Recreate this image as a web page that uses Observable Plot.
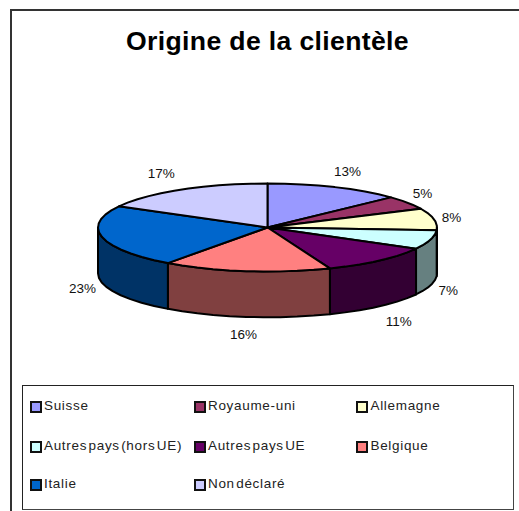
<!DOCTYPE html>
<html lang="fr">
<head>
<meta charset="utf-8">
<script src="https://cdn.jsdelivr.net/npm/d3@7"></script>
<script src="https://cdn.jsdelivr.net/npm/@observablehq/plot@0.6"></script>
<style>
html,body{margin:0;padding:0;background:#fff;overflow:hidden;width:519px;height:511px;}
body{position:relative;font-family:"Liberation Sans",Arial,sans-serif;color:#111;}
#frame{position:absolute;left:10px;top:9px;width:600px;height:600px;border:2px solid #333;box-sizing:border-box;}
#title{position:absolute;left:0;width:535px;top:25px;text-align:center;font-size:26.6px;font-weight:bold;letter-spacing:.35px;color:#000;line-height:32px;}
#chart{position:absolute;left:0;top:0;}
#chart svg{display:block;}
#legend{position:absolute;left:22px;top:385px;width:492px;height:125px;border:1px solid #222;box-sizing:border-box;border-right:1.5px solid #444;border-bottom:1.5px solid #444;}
.item{position:absolute;height:14px;line-height:14px;font-size:13.5px;letter-spacing:.68px;word-spacing:-3px;white-space:nowrap;color:#222;}
.sw{position:absolute;left:0;top:1px;width:12px;height:12px;box-sizing:border-box;border:2px solid #111;}
.item span{position:absolute;left:14.5px;top:-1px;}
</style>
</head>
<body>
<div id="frame"></div>
<div id="title">Origine de la clientèle</div>
<div id="chart"></div>
<div id="legend"></div>
<script>
const categories = ["Suisse","Royaume-uni","Allemagne","Autres pays (hors UE)","Autres pays UE","Belgique","Italie","Non déclaré"];
const shares = [13,5,8,7,11,16,23,17];
const topColors = ["#9999FF","#993366","#FFFFCC","#CCFFFF","#660066","#FF8080","#0066CC","#CCCCFF"];
const sideColors = ["#4D4D80","#4D1A33","#808066","#668080","#330033","#804040","#003366","#666680"];
// how far each percentage label sits from the pie centre, in radii
const labelReachX = [1.19,1.106,1.105,1.11,1.17,1.13,1.118,1.23];
const labelReachY = [1.39,1.375,1.2,1.4,1.475,1.4,1.56,1.43];

const depth = 1.04;      // wall height in units of the vertical radius
const rad = d => d * Math.PI / 180;
const rim = (deg, drop = 0) => ({x: Math.sin(rad(deg)), y: Math.cos(rad(deg)) - drop});
const arc = (a, b, drop = 0) => {
  const n = Math.max(1, Math.ceil(Math.abs(b - a) / 6));
  return d3.range(n + 1).map(i => rim(a + (b - a) * i / n, drop));
};

let cum = 0;
const slices = shares.map((v, i) => {
  const a0 = cum * 3.6; cum += v; const a1 = cum * 3.6;
  return {i, v, a0, a1, mid: (a0 + a1) / 2};
});

const lineOpts = fill => ({x: "x", y: "y", fill, stroke: "#000", strokeWidth: 2, strokeLinejoin: "round", curve: "linear"});

// Front walls (only the part of each slice facing the viewer)
const walls = slices.flatMap(s => {
  const a = Math.max(s.a0, 90), b = Math.min(s.a1, 270);
  if (b <= a) return [];
  const pts = [...arc(a, b), ...arc(b, a, depth)];
  pts.push(pts[0]);
  return [Plot.line(pts, lineOpts(sideColors[s.i]))];
});

// Top face wedges
const wedges = slices.map(s => {
  const pts = [{x: 0, y: 0}, ...arc(s.a0, s.a1), {x: 0, y: 0}];
  return Plot.line(pts, lineOpts(topColors[s.i]));
});

// Percentage labels placed around the rim from each slice's mid angle
const labels = slices.map(s => {
  const p = rim(s.mid);
  const front = s.mid > 90 && s.mid < 270;
  return {x: p.x * labelReachX[s.i], y: p.y * labelReachY[s.i] - (front ? depth : 0), text: s.v + "%"};
});

const plot = Plot.plot({
  width: 519, height: 380,
  margin: 0,
  style: {background: "transparent"},
  x: {domain: [-1, 1], range: [97.5, 436.5], axis: null},
  y: {domain: [-1, 1], range: [271, 183], axis: null},
  marks: [
    ...walls,
    ...wedges,
    Plot.text(labels, {x: "x", y: "y", text: "text", fontSize: 13.5, fill: "#111",
      fontFamily: "Liberation Sans, Arial, sans-serif", letterSpacing: "-0.5px"})
  ]
});
document.getElementById("chart").append(plot);

// Legend: three columns, three rows
const colX = [6.5, 170.5, 333];
const rowY = [14, 54, 92];
const legend = document.getElementById("legend");
categories.forEach((c, i) => {
  const el = document.createElement("div");
  el.className = "item";
  el.style.left = colX[i % 3] + "px";
  el.style.top = rowY[Math.floor(i / 3)] + "px";
  const sw = document.createElement("div");
  sw.className = "sw";
  sw.style.background = topColors[i];
  const t = document.createElement("span");
  t.textContent = c;
  el.append(sw, t);
  legend.append(el);
});
</script>
</body>
</html>
